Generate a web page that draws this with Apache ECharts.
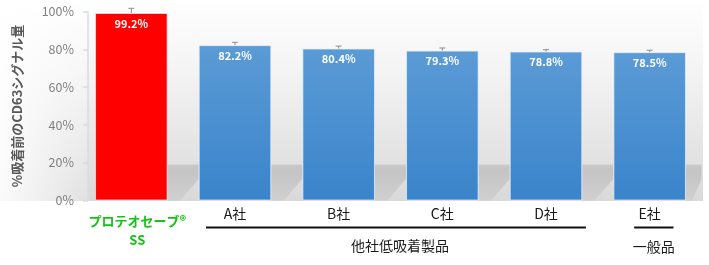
<!DOCTYPE html>
<html><head><meta charset="utf-8">
<script src="https://cdn.jsdelivr.net/npm/echarts@6/dist/echarts.min.js"></script>
<style>html,body{margin:0;padding:0;background:#fff}#c{width:709px;height:265px}</style>
</head><body><div id="c"></div>
<script>
const categories = ['プロテオセーブ®\nSS', 'A社', 'B社', 'C社', 'D社', 'E社'];
const values = [99.2, 82.2, 80.4, 79.3, 78.8, 78.5];
const errors = [2.5, 1.5, 1.3, 1.4, 1.0, 1.0];
const yTicks = [0, 20, 40, 60, 80, 100];
const groupNames = ['他社低吸着製品', '一般品'];
const groupRanges = [[1, 4], [5, 5]];
const yAxisTitle = '%吸着前のCD63シグナル量';

const FONT = '"Noto Sans CJK JP", "Noto Sans", sans-serif';
const chart = echarts.init(document.getElementById('c'), null, {renderer: 'canvas'});

const blue = new echarts.graphic.LinearGradient(0, 0, 0, 1, [
  {offset: 0, color: '#5b9bd6'}, {offset: 1, color: '#3a84cb'}]);

const option = {
  animation: false,
  backgroundColor: '#ffffff',
  grid: {left: 79.5, right: 7.5, top: 11.5, bottom: 64.5, containLabel: false},
  graphic: [
    {type: 'rect', z: -10, silent: true, shape: {x: 0, y: 0, width: 703, height: 201},
     style: {fill: new echarts.graphic.LinearGradient(0, 0, 0, 1, [
       {offset: 0, color: '#ffffff'}, {offset: 0.35, color: '#f4f4f4'},
       {offset: 0.8, color: '#e2e2e2'}, {offset: 1, color: '#d9d9d9'}])}},
    {type: 'rect', z: -10, silent: true, shape: {x: 0, y: 0, width: 88, height: 201},
     style: {fill: new echarts.graphic.LinearGradient(0, 0, 1, 0, [
       {offset: 0, color: 'rgba(255,255,255,0.9)'}, {offset: 1, color: 'rgba(255,255,255,0.2)'}])}}
  ],
  xAxis: {
    type: 'category', data: categories,
    axisLine: {show: false}, axisTick: {show: false},
    axisLabel: {
      margin: 6, interval: 0,
      formatter: function (v, i) {
        if (i === 0) {
          const parts = v.split('\n');
          return '{g|' + parts[0] + '}\n{g2|' + parts[1] + '}';
        }
        return '{n|' + v + '}';
      },
      rich: {
        n: {fontSize: 14, color: '#1a1a1a', fontFamily: FONT, lineHeight: 14},
        g: {fontSize: 13, fontWeight: 'bold', color: '#14c314', fontFamily: FONT, lineHeight: 26, padding: [4, 0, 0, 12]},
        g2: {fontSize: 13, fontWeight: 'bold', color: '#14c314', fontFamily: FONT, lineHeight: 16, padding: [0, 0, 0, 12]}
      }
    }
  },
  yAxis: {
    type: 'value', min: 0, max: 100, interval: 20, offset: -8.5,
    name: yAxisTitle, nameLocation: 'middle', nameGap: 64, nameRotate: 90,
    nameTextStyle: {fontSize: 13, fontWeight: 'bold', color: '#595959', fontFamily: FONT},
    axisLine: {show: true, lineStyle: {color: '#d6dce6', width: 1.5}},
    axisTick: {show: true, length: 5, lineStyle: {color: '#d6dce6', width: 1.5}},
    splitLine: {show: false},
    axisLabel: {margin: 14, fontSize: 12.5, color: '#808080', fontFamily: FONT,
      formatter: function (v) { return yTicks.indexOf(v) >= 0 ? v + '%' : ''; }}
  },
  series: [
    {
      type: 'custom', z: 1, silent: true,
      renderItem: function (params, api) {
        const cs = params.coordSys;
        const c = api.coord([api.value(0), 0]);
        const band = api.size([1, 0])[0];
        const xr = c[0] + band * 0.35;
        const gapW = Math.min(band * 0.3, cs.x + cs.width - xr);
        const yTop = cs.y + cs.height * 0.81;
        const yBot = cs.y + cs.height;
        return {
          type: 'polygon',
          shape: {points: [[xr, yTop], [xr + gapW, yTop], [xr + gapW, yTop + (yBot - yTop) * 0.4],
                           [xr + gapW * 0.4, yBot], [xr, yBot]]},
          style: {fill: new echarts.graphic.LinearGradient(0, 0, 0, 1, [
            {offset: 0, color: '#cacaca'}, {offset: 0.15, color: '#c4c4c4'}, {offset: 1, color: '#d0d0d0'}])}
        };
      },
      data: categories.map((c, i) => [i])
    },
    {
      type: 'bar', z: 2, barWidth: '70%',
      data: values.map((v, i) => ({value: v, itemStyle: {color: i === 0 ? '#ff0000' : blue}})),
      itemStyle: {borderColor: 'rgba(235,240,250,0.7)', borderWidth: 1},
      label: {show: true, position: 'insideTop', distance: 5, color: '#ffffff', fontWeight: 'bold',
        fontSize: 11, fontFamily: FONT, formatter: function (p) { return p.value.toFixed(1) + '%'; }}
    },
    {
      type: 'custom', z: 3, silent: true,
      renderItem: function (params, api) {
        const i = api.value(0);
        const top = api.coord([i, api.value(1) + api.value(2)]);
        const base = api.coord([i, api.value(1)]);
        return {type: 'group', children: [
          {type: 'line', shape: {x1: top[0], y1: top[1], x2: base[0], y2: base[1]}, style: {stroke: '#8c8c8c', lineWidth: 1}},
          {type: 'line', shape: {x1: top[0] - 3, y1: top[1], x2: top[0] + 3, y2: top[1]}, style: {stroke: '#8c8c8c', lineWidth: 1}}
        ]};
      },
      data: values.map((v, i) => [i, v, errors[i]])
    }
  ]
};
chart.setOption(option);

// group brackets under category labels
const cx = i => chart.convertToPixel({xAxisIndex: 0}, i);
const bandW = cx(1) - cx(0);
const g1a = cx(groupRanges[0][0]) - bandW * 0.28, g1b = cx(groupRanges[0][1]) + bandW * 0.385;
const g2a = cx(groupRanges[1][0]) - bandW * 0.15, g2b = cx(groupRanges[1][1]) + bandW * 0.23;
chart.setOption({graphic: option.graphic.concat([
  {type: 'line', shape: {x1: g1a, y1: 227.5, x2: g1b, y2: 227.5}, style: {stroke: '#111', lineWidth: 2}},
  {type: 'line', shape: {x1: g2a, y1: 227.5, x2: g2b, y2: 227.5}, style: {stroke: '#111', lineWidth: 2}},
  {type: 'text', x: (g1a + g1b) / 2 + 4, y: 246, style: {text: groupNames[0], fontSize: 14, fill: '#1a1a1a',
    fontFamily: FONT, align: 'center', verticalAlign: 'middle'}},
  {type: 'text', x: (g2a + g2b) / 2, y: 247, style: {text: groupNames[1], fontSize: 14, fill: '#1a1a1a',
    fontFamily: FONT, align: 'center', verticalAlign: 'middle'}}
])});
</script></body></html>
